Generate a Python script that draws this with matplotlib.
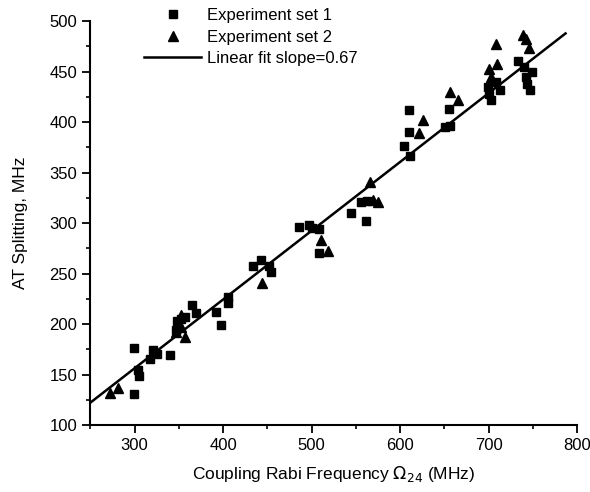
import matplotlib
matplotlib.use("Agg")
import matplotlib.pyplot as plt
import numpy as np
from matplotlib.ticker import MultipleLocator

plt.rcParams["font.family"] = ["Liberation Sans", "DejaVu Sans"]

# Experiment set 1 (squares)
set1_x = [299, 299, 304, 305, 318, 321, 325, 340, 347, 348, 352, 357, 365, 369,
          392, 398, 406, 406, 434, 443, 452, 454, 486, 497, 500, 509, 509,
          545, 556, 561, 563, 604, 611, 610, 610, 651, 657, 655,
          699, 701, 703, 708, 713, 733, 740, 742, 744, 747, 749]
set1_y = [176, 131, 155, 149, 165, 174, 170, 169, 194, 203, 205, 207, 219, 211,
          212, 199, 227, 221, 258, 263, 258, 252, 296, 298, 295, 294, 270,
          310, 321, 302, 322, 376, 366, 412, 390, 395, 396, 413,
          435, 428, 422, 440, 432, 461, 455, 445, 438, 432, 450]

# Experiment set 2 (triangles)
set2_x = [272, 281, 347, 353, 357, 352, 444, 511, 519, 566, 570, 575,
          621, 626, 657, 666, 700, 703, 708, 710, 739, 742, 746]
set2_y = [132, 137, 192, 197, 187, 209, 241, 283, 272, 341, 323, 321,
          389, 402, 430, 422, 453, 445, 477, 458, 486, 482, 473]

# linear fit
fit_x = [250, 787]
fit_slope = 0.681
fit_icpt = -48.1

fig = plt.figure(figsize=(5.9, 4.92), dpi=100)
ax = fig.add_axes([0.153, 0.136, 0.825, 0.821])

ax.plot(set1_x, set1_y, "s", color="black", ms=6, label="Experiment set 1")
ax.plot(set2_x, set2_y, "^", color="black", ms=7, label="Experiment set 2")
fx = np.array(fit_x)
ax.plot(fx, fit_icpt + fit_slope * fx, "-", color="black", lw=1.8,
        label="Linear fit slope=0.67")

ax.set_xlim(250, 800)
ax.set_ylim(100, 500)
ax.xaxis.set_major_locator(MultipleLocator(100))
ax.xaxis.set_minor_locator(MultipleLocator(50))
ax.yaxis.set_major_locator(MultipleLocator(50))
ax.yaxis.set_minor_locator(MultipleLocator(25))
ax.tick_params(which="major", direction="out", length=6, width=1.3, labelsize=12)
ax.tick_params(which="minor", direction="out", length=3, width=1.2)

for side in ["top", "right"]:
    ax.spines[side].set_visible(False)
for side in ["left", "bottom"]:
    ax.spines[side].set_linewidth(1.5)

ax.set_xlabel("Coupling Rabi Frequency $\\Omega_{24}$ (MHz)", fontsize=12.5, labelpad=8)
ax.set_ylabel("AT Splitting, MHz", fontsize=12.5, labelpad=15)

ax.legend(loc="upper left", bbox_to_anchor=(0.08, 1.07), frameon=False,
          fontsize=12, numpoints=1, handlelength=3.4, handletextpad=0.35,
          labelspacing=0.4)

fig.savefig("out.png", dpi=100)
